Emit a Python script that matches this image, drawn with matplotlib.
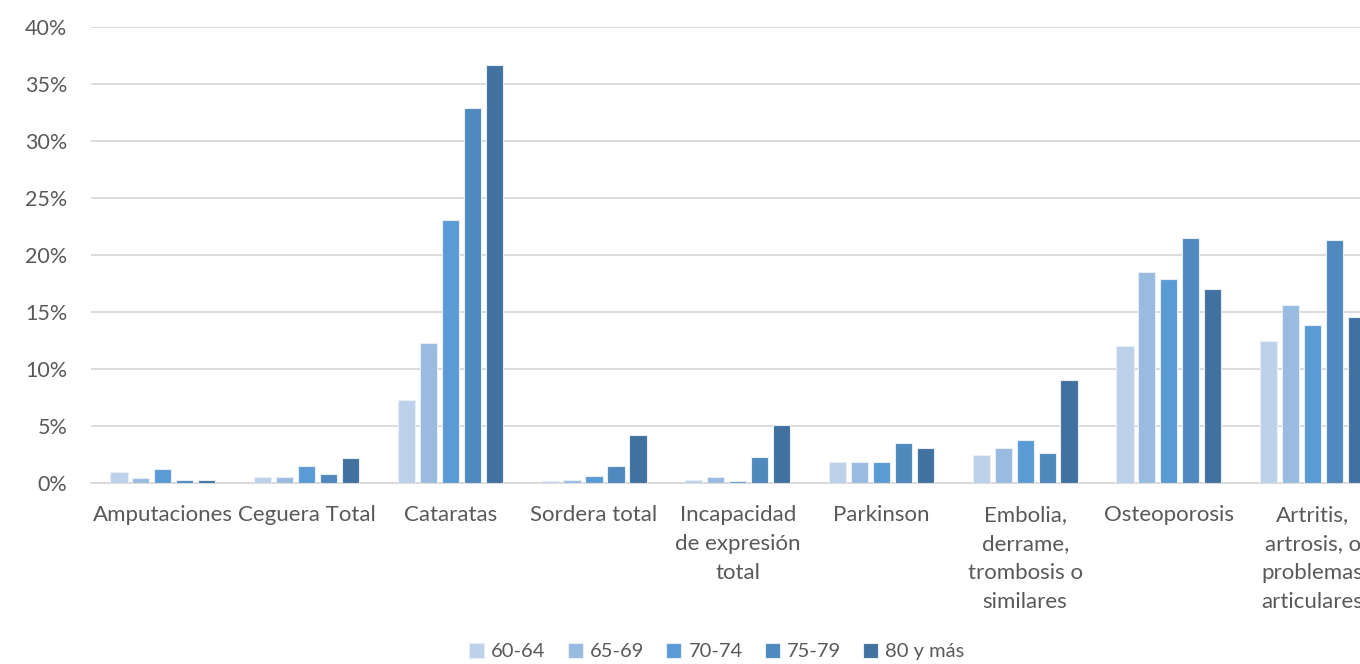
import numpy as np
import matplotlib.pyplot as plt
from matplotlib.ticker import FuncFormatter

# Categorías (la última queda cortada en el borde derecho)
categorias = ["Amputaciones", "Ceguera Total", "Cataratas", "Sordera total",
              "Incapacidad\nde expresión\ntotal", "Parkinson",
              "Embolia,\nderrame,\ntrombosis o\nsimilares", "Osteoporosis",
              "Artritis,\nartrosis, o\nproblemas\narticulares"]

grupos = ["60-64", "65-69", "70-74", "75-79", "80 y más"]

# Porcentajes por grupo de edad
v_60_64 = [1.0, 0.5, 7.3, 0.2, 0.3, 1.8, 2.5, 12.0, 12.5]
v_65_69 = [0.4, 0.5, 12.3, 0.3, 0.5, 1.8, 3.1, 18.5, 15.6]
v_70_74 = [1.2, 1.5, 23.1, 0.6, 0.2, 1.8, 3.8, 17.9, 13.9]
v_75_79 = [0.25, 0.75, 32.9, 1.5, 2.3, 3.5, 2.6, 21.5, 21.3]
v_80 = [0.3, 2.2, 36.7, 4.2, 5.1, 3.1, 9.0, 17.0, 14.6]
series = [v_60_64, v_65_69, v_70_74, v_75_79, v_80]

colores = ["#BDD1EA", "#9ABBE0", "#5B9BD5", "#4F89BD", "#41729F"]

plt.rcParams['font.family'] = ['Lato', 'DejaVu Sans']

fig = plt.figure(figsize=(13.6, 6.64), dpi=100)
ax = fig.add_axes([91 / 1360, 181 / 664, 1 - 91 / 1360, 456 / 664])

x = np.arange(len(categorias))
paso = 0.153
ancho = 0.12
for i, (vals, col, lab) in enumerate(zip(series, colores, grupos)):
    ax.bar(x + (i - 2) * paso, vals, width=ancho, color=col, label=lab,
           edgecolor="#E8EEF7", linewidth=0.8, zorder=3)

ax.set_xlim(-0.5, 8.33)
ax.set_ylim(0, 40)
ax.set_yticks(np.arange(0, 41, 5))
ax.yaxis.set_major_formatter(FuncFormatter(lambda v, p: f"{int(v)}%"))
ax.grid(axis="y", color="#D9D9D9", linewidth=1.3, zorder=0)
for s in ["top", "right", "left"]:
    ax.spines[s].set_visible(False)
ax.spines["bottom"].set_color("#D9D9D9")
ax.spines["bottom"].set_linewidth(1.3)
ax.tick_params(axis="both", length=0, labelcolor="#595959")
ax.tick_params(axis="y", pad=17, labelsize=15.5)
ax.tick_params(axis="x", pad=16, labelsize=16)
ax.set_xticks(x)
ax.set_xticklabels(categorias, linespacing=1.55)

fig.legend(loc="lower center", bbox_to_anchor=(0.527, -0.022), ncol=5,
           frameon=False, fontsize=14.5, handlelength=0.75, handleheight=0.75,
           handletextpad=0.35, columnspacing=1.1, labelcolor="#595959")

fig.savefig("out.png", dpi=100)
